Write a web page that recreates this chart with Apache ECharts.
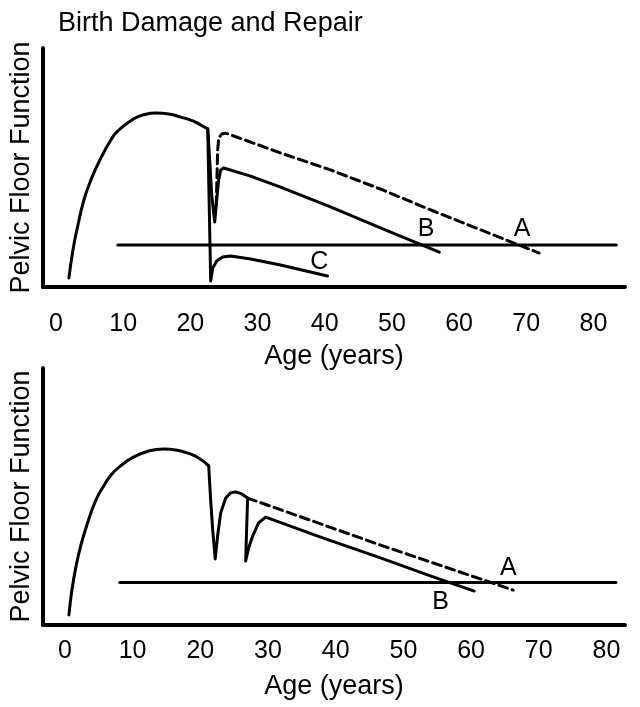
<!DOCTYPE html>
<html>
<head>
<meta charset="utf-8">
<script src="https://cdn.jsdelivr.net/npm/echarts@6/dist/echarts.min.js"></script>
<style>html,body{margin:0;padding:0;background:#fff}#c{width:640px;height:707px}</style>
</head>
<body>
<div id="c"></div>
<script>
// ---------- data ----------
const xTicks = [0, 10, 20, 30, 40, 50, 60, 70, 80];
const titleText = 'Birth Damage and Repair';
const yName = 'Pelvic Floor Function';
const xName = 'Age (years)';

// top panel
const topRise = [[1.93,3.8],[2.53,15.5],[3.27,25.9],[4.16,36.4],[5.2,44.8],[6.69,54.0],[8.17,61.5],[9.21,65.3],[11.59,70.4],[13.37,72.3],[14.86,72.8],[16.79,72.4],[18.57,71.1],[20.36,69.5],[21.55,67.8],[22.59,66.1]];
const topB = [[22.59,66.1],[22.88,53.1],[23.18,38.5],[23.63,27.2],[23.92,36.4],[24.22,44.8],[24.52,49.0],[24.96,49.8],[28.97,46.4],[33.43,41.8],[40.86,33.5],[48.29,24.7],[57.06,14.6]];
const topC = [[22.59,66.1],[23.03,2.5],[23.33,7.9],[23.92,10.9],[24.81,12.6],[26.0,13.0],[28.97,11.7],[33.43,9.2],[40.42,4.6]];
const topA = [[23.85,34.0],[24.07,57.3],[24.22,62.3],[24.67,64.0],[25.26,64.4],[33.43,56.1],[40.86,49.0],[48.29,41.0],[56.17,31.8],[71.92,14.2]];
const topThreshold = [[9.2,17.6],[83.4,17.6]];
const topLabels = [['B',55.1,24.3],['A',69.4,24.3],['C',39.2,10.5]];

// bottom panel
const botRise = [[0.59,3.9],[1.03,13.6],[1.62,22.6],[2.36,31.1],[3.39,40.1],[4.57,48.6],[5.75,54.2],[6.78,58.3],[8.26,62.0],[10.18,65.4],[12.39,67.7],[14.6,68.5],[16.37,68.1],[18.14,66.9],[19.76,65.0],[21.24,61.9]];
const botB = [[21.24,61.9],[21.53,48.6],[21.83,37.0],[22.2,25.7],[22.57,35.0],[23.01,43.6],[23.75,49.4],[24.48,51.4],[25.22,51.8],[26.11,51.0],[26.99,49.4],[26.84,37.0],[26.7,24.9],[27.14,30.0],[27.73,34.6],[28.61,39.7],[29.65,42.0],[37.76,34.2],[46.61,26.1],[53.98,19.1],[60.47,13.2]];
const botA = [[26.99,49.4],[46.61,31.1],[66.22,13.6]];
const botThreshold = [[8.1,16.5],[81.4,16.5]];
const botLabels = [['A',65.5,22.2],['B',55.5,9.0]];

// ---------- chart ----------
const FONT = '"Liberation Sans", Arial, Helvetica, sans-serif';
const chart = echarts.init(document.getElementById('c'), null, {renderer: 'canvas'});

function xAxisDef(grid, min, max, labelMargin, nameGap) {
  return {
    gridIndex: grid, type: 'value', min: min, max: max,
    axisLine: {onZero: false, lineStyle: {color: '#000', width: 4}},
    axisTick: {show: false}, splitLine: {show: false},
    axisLabel: {customValues: xTicks, margin: labelMargin, fontSize: 25, color: '#000', fontFamily: FONT},
    name: xName, nameLocation: 'middle', nameGap: nameGap,
    nameTextStyle: {fontSize: 27, color: '#000', fontFamily: FONT}
  };
}
function yAxisDef(grid) {
  return {
    gridIndex: grid, type: 'value', min: 0, max: 100,
    axisLine: {show: true, onZero: false, lineStyle: {color: '#000', width: 4}},
    axisTick: {show: false}, splitLine: {show: false}, axisLabel: {show: false},
    name: yName, nameLocation: 'middle', nameGap: 8,
    nameTextStyle: {fontSize: 27, color: '#000', fontFamily: FONT}
  };
}
function lineSeries(grid, data, dashed, smooth) {
  return {
    type: 'line', xAxisIndex: grid, yAxisIndex: grid, data: data,
    showSymbol: false, symbol: 'none', silent: true,
    smooth: smooth ? 0.5 : false,
    lineStyle: {color: '#000', width: 3, type: dashed ? [9, 5] : 'solid', join: 'round', cap: 'round'}
  };
}
function labelSeries(grid, labels) {
  return {
    type: 'scatter', xAxisIndex: grid, yAxisIndex: grid, symbolSize: 1,
    itemStyle: {color: 'rgba(0,0,0,0)'}, silent: true,
    data: labels.map(l => ({name: l[0], value: [l[1], l[2]]})),
    label: {show: true, position: 'inside', formatter: p => p.name, fontSize: 25,
      color: '#000', textBorderWidth: 0, opacity: 1, fontFamily: FONT}
  };
}

chart.setOption({
  animation: false,
  backgroundColor: '#fff',
  title: {text: titleText, left: 58, top: 10, padding: 0,
    textStyle: {fontSize: 27, fontWeight: 'normal', color: '#000', fontFamily: FONT}},
  grid: [
    {left: 42, right: 15, top: 48, height: 239},
    {left: 42, right: 15, top: 368, height: 257}
  ],
  xAxis: [xAxisDef(0, -1.93, 84.7, 25, 56), xAxisDef(1, -3.24, 82.74, 14, 48)],
  yAxis: [yAxisDef(0), yAxisDef(1)],
  series: [
    lineSeries(0, topRise, false, true),
    lineSeries(0, topB, false, false),
    lineSeries(0, topC, false, false),
    lineSeries(0, topA, true, false),
    lineSeries(0, topThreshold, false, false),
    labelSeries(0, topLabels),
    lineSeries(1, botRise, false, true),
    lineSeries(1, botB, false, false),
    lineSeries(1, botA, true, false),
    lineSeries(1, botThreshold, false, false),
    labelSeries(1, botLabels)
  ]
});
</script>
</body>
</html>
